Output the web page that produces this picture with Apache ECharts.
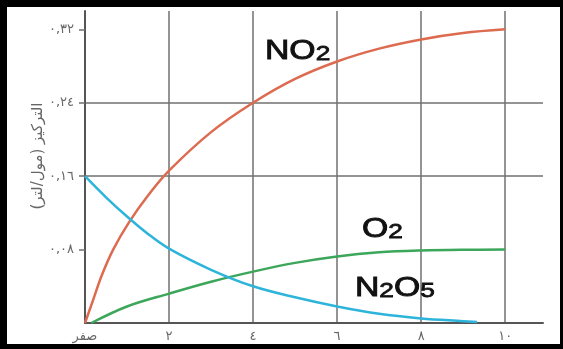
<!DOCTYPE html>
<html>
<head>
<meta charset="utf-8">
<script src="https://cdn.jsdelivr.net/npm/echarts@6/dist/echarts.min.js"></script>
<style>
html,body{margin:0;padding:0;background:#fff;}
#chart{width:563px;height:349px;}
</style>
</head>
<body>
<div id="chart"></div>
<script>
// ---- data ----
const xTickValues = [0, 2, 4, 6, 8, 10];
const xTickLabels = ['صفر', '٢', '٤', '٦', '٨', '١٠'];
const yTickValues = [0.08, 0.16, 0.24, 0.32];
const yTickLabels = ['٠,٠٨', '٠,١٦', '٠,٢٤', '٠,٣٢'];
const yAxisTitle = 'التركيز (مول/لتر)';

const no2Time = [0, 0.2, 0.4, 0.67, 1.05, 1.5, 2, 3, 4, 5, 6, 7, 8, 9, 10];
const no2Conc = [0, 0.026, 0.052, 0.08, 0.11, 0.139, 0.166, 0.208, 0.24, 0.266, 0.285, 0.299, 0.309, 0.316, 0.32];

const n2o5Time = [0, 0.5, 1, 1.5, 2, 3, 4, 5, 6, 7, 8, 9, 9.33];
const n2o5Conc = [0.16, 0.137, 0.116, 0.097, 0.081, 0.058, 0.04, 0.028, 0.018, 0.01, 0.005, 0.002, 0.001];

const o2Time = [0.15, 1, 2, 3, 4, 5, 6, 7, 8, 9, 10];
const o2Conc = [0, 0.018, 0.032, 0.045, 0.056, 0.0655, 0.0725, 0.077, 0.079, 0.0798, 0.08];

function pairs(t, v) { return t.map((x, i) => [x, v[i]]); }
function lookup(values, labels, val) {
  for (let i = 0; i < values.length; i++) if (Math.abs(values[i] - val) < 1e-6) return labels[i];
  return '';
}

const gridColor = '#707070';
const labelColor = '#666';
const labelFont = 'DejaVu Sans';

const chart = echarts.init(document.getElementById('chart'), null, {renderer: 'canvas'});
const formulaFont = 'Liberation Sans';
function formula(parts, x, y) {
  return {
    type: 'text', x: x, y: y, scaleX: 1.25, z: 10,
    style: {
      text: parts.map(p => (p.sub ? '{b|' : '{a|') + p.t + '}').join(''),
      rich: {
        a: {fontSize: 27, fontFamily: formulaFont, fill: '#111', stroke: '#111', lineWidth: 0.9, verticalAlign: 'bottom', lineHeight: 30},
        b: {fontSize: 21, fontFamily: formulaFont, fill: '#111', stroke: '#111', lineWidth: 0.8, verticalAlign: 'bottom', lineHeight: 30}
      },
      align: 'left', verticalAlign: 'middle'
    }
  };
}

chart.setOption({
  animation: false,
  backgroundColor: '#fff',
  grid: {left: 85, right: 20, top: 11, bottom: 26, containLabel: false},
  xAxis: {
    type: 'value', min: 0, max: 10.9, interval: 2,
    axisLine: {show: true, lineStyle: {color: '#555', width: 2}},
    axisTick: {show: false},
    splitLine: {show: true, showMinLine: false, showMaxLine: false, lineStyle: {color: gridColor, width: 1.5}},
    axisLabel: {
      customValues: xTickValues,
      color: labelColor, fontSize: 13, fontFamily: labelFont, margin: 7,
      formatter: v => lookup(xTickValues, xTickLabels, v)
    }
  },
  yAxis: {
    type: 'value', min: 0, max: 0.34, interval: 0.08,
    axisLine: {show: true, lineStyle: {color: '#555', width: 2}},
    axisTick: {show: true, customValues: yTickValues, length: 6, lineStyle: {color: gridColor, width: 1.5}},
    splitLine: {show: true, showMinLine: false, showMaxLine: false, lineStyle: {color: gridColor, width: 1.5}},
    axisLabel: {
      customValues: yTickValues,
      color: labelColor, fontSize: 13, fontFamily: labelFont, margin: 11,
      formatter: v => lookup(yTickValues, yTickLabels, v)
    }
  },
  series: [
    {name: 'NO2', type: 'line', data: pairs(no2Time, no2Conc), showSymbol: false, smooth: 0.35,
     lineStyle: {color: '#dc6b4f', width: 2.5}, z: 3},
    {name: 'N2O5', type: 'line', data: pairs(n2o5Time, n2o5Conc), showSymbol: false, smooth: 0.35,
     lineStyle: {color: '#2db4db', width: 2.5}, z: 4},
    {name: 'O2', type: 'line', data: pairs(o2Time, o2Conc), showSymbol: false, smooth: 0.35,
     lineStyle: {color: '#3ca65a', width: 2.5}, z: 2}
  ],
  graphic: [
    {
      type: 'text', x: 38, y: 156, rotation: Math.PI / 2,
      style: {text: yAxisTitle, fontSize: 15, fontFamily: labelFont, fill: labelColor, align: 'center', verticalAlign: 'middle'}
    },
    formula([{t: 'NO'}, {t: '2', sub: true}], 265, 50),
    formula([{t: 'O'}, {t: '2', sub: true}], 362, 228),
    formula([{t: 'N'}, {t: '2', sub: true}, {t: 'O'}, {t: '5', sub: true}], 355, 287),
    // black frame
    {type: 'rect', shape: {x: 0, y: 0, width: 563, height: 7}, style: {fill: '#000'}, z: 20},
    {type: 'rect', shape: {x: 0, y: 0, width: 7, height: 349}, style: {fill: '#000'}, z: 20},
    {type: 'rect', shape: {x: 0, y: 344, width: 563, height: 5}, style: {fill: '#000'}, z: 20},
    {type: 'rect', shape: {x: 560, y: 0, width: 3, height: 349}, style: {fill: '#000'}, z: 20}
  ]
});
</script>
</body>
</html>
